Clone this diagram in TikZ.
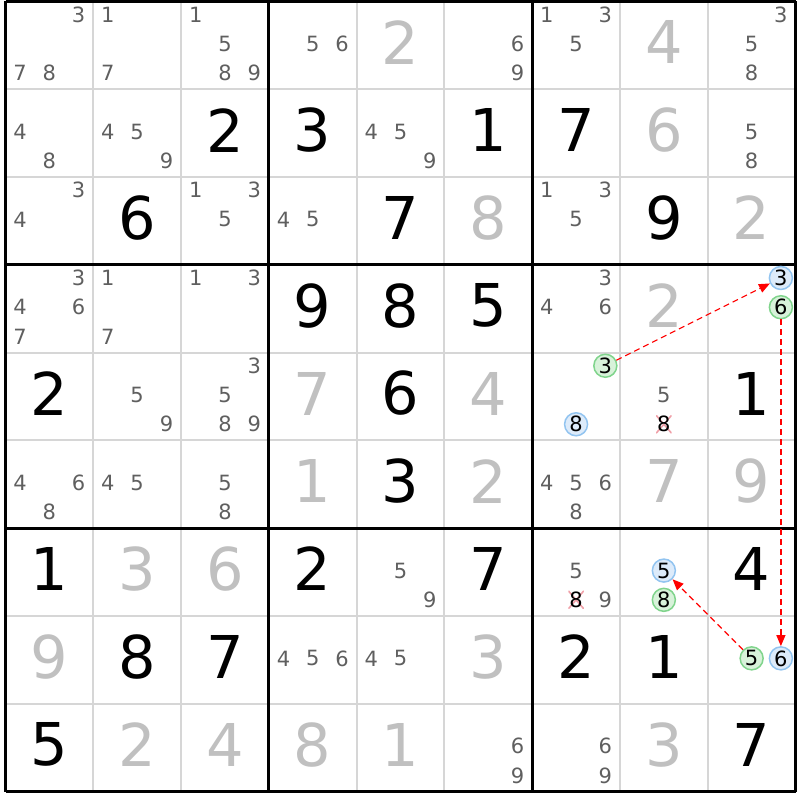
\documentclass[tikz,border=0pt]{standalone}
\usepackage{fontspec}
\setmainfont{DejaVu Sans}
\usepackage{xcolor}
\usetikzlibrary{arrows.meta}
\definecolor{pencilgray}{HTML}{5F5F5F}
\definecolor{biggray}{HTML}{C0C0C0}
\definecolor{linegray}{HTML}{D6D6D6}
\definecolor{blueline}{HTML}{92C4F0}
\definecolor{bluefill}{HTML}{DDEBFA}
\definecolor{greenline}{HTML}{80D48C}
\definecolor{greenfill}{HTML}{D8F2DA}
\definecolor{strikered}{HTML}{F0A0A8}

\begin{document}
\begin{tikzpicture}[
		x=1pt, y=-1pt,
		cellline/.style={draw=linegray, line width=2pt},
		boxline/.style={draw=black, line width=3pt},
		given/.style={font=\fontsize{59}{59}\selectfont, text=black, inner sep=0pt, yshift=3pt},
		solved/.style={given, text=biggray},
		pencil/.style={font=\fontsize{21}{21}\selectfont, text=pencilgray, inner sep=1pt, yshift=1.5pt},
		onmark/.style={pencil, text=black, circle, draw=blueline, fill=bluefill, line width=1.5pt, minimum size=23pt, inner sep=0pt},
		offmark/.style={onmark, draw=greenline, fill=greenfill},
		struck/.style={pencil, text=black, fill=white, path picture={
			\draw[strikered, line width=1.6pt] (path picture bounding box.south west) -- (path picture bounding box.north east)
			(path picture bounding box.north west) -- (path picture bounding box.south east);}},
		link/.style={draw=red, line width=1.2pt, dash pattern=on 6pt off 4pt, -{Triangle[length=11pt,width=9pt]}},
		]
		\useasboundingbox (0,0) rectangle (800,800);

		%Grid
		\foreach \i in {1,2,4,5,7,8} {
			\draw[cellline] ({5.5+87.78*\i},1.5) -- ({5.5+87.78*\i},791.5);
			\draw[cellline] (5.5,{1.5+87.78*\i}) -- (795.5,{1.5+87.78*\i});
		}
		\foreach \i in {0,3,6,9} {
			\draw[boxline] ({5.5+87.78*\i},1.5) -- ({5.5+87.78*\i},791.5);
			\draw[boxline] (5.5,{1.5+87.78*\i}) -- (795.5,{1.5+87.78*\i});
		}

		%Givens
		\foreach \r/\c/\d in {1/2/2, 1/3/3, 1/5/1, 1/6/7, 2/1/6, 2/4/7, 2/7/9, 3/3/9, 3/4/8, 3/5/5,
				4/0/2, 4/4/6, 4/8/1, 5/4/3, 6/0/1, 6/3/2, 6/5/7, 6/8/4, 7/1/8, 7/2/7, 7/6/2, 7/7/1, 8/0/5, 8/8/7}
			\node[given] (g\r\c) at ({5.5+87.78*(\c+0.5)},{1.5+87.78*(\r+0.5)}) {\d};

		%Solved
		\foreach \r/\c/\d in {0/4/2, 0/7/4, 1/7/6, 2/5/8, 2/8/2, 3/7/2, 4/3/7, 4/5/4, 5/3/1, 5/5/2, 5/7/7,
				5/8/9, 6/1/3, 6/2/6, 7/0/9, 7/5/3, 8/1/2, 8/2/4, 8/3/8, 8/4/1, 8/7/3}
			\node[solved] (s\r\c) at ({5.5+87.78*(\c+0.5)},{1.5+87.78*(\r+0.5)}) {\d};

		%Candidates
		\foreach \r/\c/\d in {0/0/3, 0/0/7, 0/0/8, 0/1/1, 0/1/7, 0/2/1, 0/2/5, 0/2/8, 0/2/9, 0/3/5, 0/3/6,
				0/5/6, 0/5/9, 0/6/1, 0/6/3, 0/6/5, 0/8/3, 0/8/5, 0/8/8,
				1/0/4, 1/0/8, 1/1/4, 1/1/5, 1/1/9, 1/4/4, 1/4/5, 1/4/9, 1/8/5, 1/8/8,
				2/0/3, 2/0/4, 2/2/1, 2/2/3, 2/2/5, 2/3/4, 2/3/5, 2/6/1, 2/6/3, 2/6/5,
				3/0/3, 3/0/4, 3/0/6, 3/0/7, 3/1/1, 3/1/7, 3/2/1, 3/2/3, 3/6/3, 3/6/4, 3/6/6,
				4/1/5, 4/1/9, 4/2/3, 4/2/5, 4/2/8, 4/2/9, 4/7/5,
				5/0/4, 5/0/6, 5/0/8, 5/1/4, 5/1/5, 5/2/5, 5/2/8, 5/6/4, 5/6/5, 5/6/6, 5/6/8,
				6/4/5, 6/4/9, 6/6/5, 6/6/9, 7/3/4, 7/3/5, 7/3/6, 7/4/4, 7/4/5,
				8/5/6, 8/5/9, 8/6/6, 8/6/9} {
			\pgfmathsetmacro{\px}{5.5+87.78*(\c+(2*mod(\d-1,3)+1)/6)}
			\pgfmathsetmacro{\py}{1.5+87.78*(\r+(2*int((\d-1)/3)+1)/6)}
			\node[pencil] (p\r\c\d) at (\px,\py) {\d};
		}

		%Marked candidates
		\foreach \r/\c/\d/\s in {3/8/3/onmark, 3/8/6/offmark, 4/6/3/offmark, 4/6/8/onmark, 4/7/8/struck,
				6/6/8/struck, 6/7/5/onmark, 6/7/8/offmark, 7/8/5/offmark, 7/8/6/onmark} {
			\pgfmathsetmacro{\px}{5.5+87.78*(\c+(2*mod(\d-1,3)+1)/6)}
			\pgfmathsetmacro{\py}{1.5+87.78*(\r+(2*int((\d-1)/3)+1)/6)}
			\node[\s] (p\r\c\d) at (\px,\py) {\d};
		}

		%Chain
		\draw[link] (p463) -- (p383);
		\draw[link] (p386) -- (p786);
		\draw[link] (p785) -- (p675);
	\end{tikzpicture}
\end{document}
